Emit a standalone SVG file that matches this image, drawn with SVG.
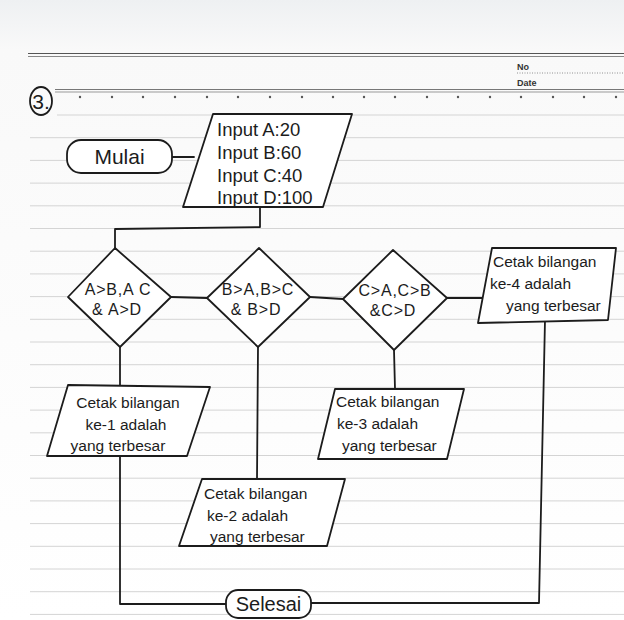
<svg xmlns="http://www.w3.org/2000/svg" width="624" height="620" viewBox="0 0 624 620">
<defs>
<style>
.rule{stroke:#d4d4d4;stroke-width:1}
.ink{fill:none;stroke:#1c1c1c;stroke-width:1.8;stroke-linejoin:round;stroke-linecap:round}
.shape{fill:#ffffff;stroke:#1c1c1c;stroke-width:1.8;stroke-linejoin:round}
.t{font-family:"Liberation Sans","DejaVu Sans",sans-serif;fill:#1c1c1c}
.big{font-size:18.5px}
.mid{font-size:15.5px}
.dec{font-size:16px;letter-spacing:0.8px;text-anchor:middle}
.hdr{font-family:"Liberation Sans",sans-serif;font-size:9px;font-weight:bold;fill:#333}
</style>
<linearGradient id="paper" x1="0" y1="0" x2="0" y2="1">
<stop offset="0" stop-color="#eef0f2"/>
<stop offset="0.08" stop-color="#f9f9f9"/>
<stop offset="1" stop-color="#ffffff"/>
</linearGradient>
</defs>
<rect x="0" y="0" width="624" height="620" fill="url(#paper)"/>
<g id="paper-lines">
<line x1="28" y1="53.5" x2="624" y2="53.5" stroke="#555" stroke-width="1.2"/>
<line x1="28" y1="56.5" x2="624" y2="56.5" stroke="#888" stroke-width="1"/>
<line x1="55" y1="89.5" x2="624" y2="89.5" stroke="#777" stroke-width="1.2"/>
<line x1="55" y1="92" x2="624" y2="92" stroke="#999" stroke-width="1"/>
<line x1="517" y1="73" x2="624" y2="73" stroke="#777" stroke-width="0.8" stroke-dasharray="1,1.5"/>
<text class="hdr" x="517" y="70">No</text>
<text class="hdr" x="517" y="86">Date</text>
<g fill="#555">
<circle cx="80" cy="97" r="1.2"/><circle cx="112" cy="97" r="1.2"/><circle cx="143" cy="97" r="1.2"/><circle cx="175" cy="97" r="1.2"/><circle cx="207" cy="97" r="1.2"/><circle cx="238" cy="97" r="1.2"/><circle cx="270" cy="97" r="1.2"/><circle cx="302" cy="97" r="1.2"/><circle cx="333" cy="97" r="1.2"/><circle cx="364" cy="97" r="1.2"/><circle cx="395" cy="97" r="1.2"/><circle cx="427" cy="97" r="1.2"/><circle cx="458" cy="97" r="1.2"/><circle cx="490" cy="97" r="1.2"/><circle cx="521" cy="97" r="1.2"/><circle cx="553" cy="97" r="1.2"/><circle cx="584" cy="97" r="1.2"/><circle cx="616" cy="97" r="1.2"/>
</g>
<line class="rule" x1="57" y1="115" x2="624" y2="115"/>
<line class="rule" x1="30" y1="137.7" x2="624" y2="137.7"/>
<line class="rule" x1="30" y1="160.4" x2="624" y2="160.4"/>
<line class="rule" x1="30" y1="183.1" x2="624" y2="183.1"/>
<line class="rule" x1="30" y1="205.8" x2="624" y2="205.8"/>
<line class="rule" x1="30" y1="228.5" x2="624" y2="228.5"/>
<line class="rule" x1="30" y1="251.2" x2="624" y2="251.2"/>
<line class="rule" x1="30" y1="273.9" x2="624" y2="273.9"/>
<line class="rule" x1="30" y1="296.6" x2="624" y2="296.6"/>
<line class="rule" x1="30" y1="319.3" x2="624" y2="319.3"/>
<line class="rule" x1="30" y1="342" x2="624" y2="342"/>
<line class="rule" x1="30" y1="364.7" x2="624" y2="364.7"/>
<line class="rule" x1="30" y1="387.4" x2="624" y2="387.4"/>
<line class="rule" x1="30" y1="410.1" x2="624" y2="410.1"/>
<line class="rule" x1="30" y1="432.8" x2="624" y2="432.8"/>
<line class="rule" x1="30" y1="455.5" x2="624" y2="455.5"/>
<line class="rule" x1="30" y1="478.2" x2="624" y2="478.2"/>
<line class="rule" x1="30" y1="500.9" x2="624" y2="500.9"/>
<line class="rule" x1="30" y1="523.6" x2="624" y2="523.6"/>
<line class="rule" x1="30" y1="546.3" x2="624" y2="546.3"/>
<line class="rule" x1="30" y1="569" x2="624" y2="569"/>
<line class="rule" x1="30" y1="591.7" x2="624" y2="591.7"/>
<line class="rule" x1="30" y1="614.4" x2="624" y2="614.4"/>
</g>
<g id="label-3">
<ellipse cx="41" cy="101" rx="11" ry="14" class="ink"/>
<text class="t" x="41" y="109" font-size="21" text-anchor="middle">3.</text>
</g>
<g id="connectors" class="ink">
<line x1="172" y1="157" x2="194" y2="157"/>
<polyline points="260,207 260,227 115,229 115,248"/>
<line x1="171" y1="297" x2="207" y2="298"/>
<line x1="310" y1="297" x2="343" y2="299"/>
<line x1="447" y1="298" x2="484" y2="298"/>
<line x1="120" y1="347" x2="120" y2="385"/>
<line x1="258" y1="347" x2="257" y2="479"/>
<line x1="394" y1="350" x2="395" y2="389"/>
<polyline points="120,456 120,604 226,604"/>
<polyline points="545,320 539,603 311,603"/>
</g>
<g id="mulai">
<rect x="67" y="140" width="105" height="33" rx="14" class="shape"/>
<text class="t" x="119.5" y="164" font-size="21" text-anchor="middle">Mulai</text>
</g>
<g id="input">
<polygon points="213,114 352,114 323,207 183,207" class="shape"/>
<text class="t big" x="217" y="136">Input A:20</text>
<text class="t big" x="217" y="159">Input B:60</text>
<text class="t big" x="217" y="182">Input C:40</text>
<text class="t big" x="217" y="204">Input D:100</text>
</g>
<g id="dec1">
<polygon points="115,248 171,297 120,347 68,297" class="shape"/>
<text class="t dec" x="118" y="295">A&gt;B,A C</text>
<text class="t dec" x="117" y="315">&amp; A&gt;D</text>
</g>
<g id="dec2">
<polygon points="259,248 310,297 258,347 207,298" class="shape"/>
<text class="t dec" x="258" y="295">B&gt;A,B&gt;C</text>
<text class="t dec" x="256" y="315">&amp; B&gt;D</text>
</g>
<g id="dec3">
<polygon points="393,250 447,298 394,350 343,299" class="shape"/>
<text class="t dec" x="395" y="296">C&gt;A,C&gt;B</text>
<text class="t dec" x="393" y="316">&amp;C&gt;D</text>
</g>
<g id="out4">
<polygon points="492,248 616,248 608,320 478,323" class="shape"/>
<text class="t mid" x="493" y="267">Cetak bilangan</text>
<text class="t mid" x="490" y="289">ke-4 adalah</text>
<text class="t mid" x="506" y="311">yang terbesar</text>
</g>
<g id="out1">
<polygon points="68,385 210,387 187,456 47,456" class="shape"/>
<text class="t mid" x="128" y="408" text-anchor="middle">Cetak bilangan</text>
<text class="t mid" x="126" y="430" text-anchor="middle">ke-1 adalah</text>
<text class="t mid" x="118" y="451" text-anchor="middle">yang terbesar</text>
</g>
<g id="out2">
<polygon points="202,479 345,479 327,546 179,546" class="shape"/>
<text class="t mid" x="204" y="499">Cetak bilangan</text>
<text class="t mid" x="207" y="521">ke-2 adalah</text>
<text class="t mid" x="210" y="542">yang terbesar</text>
</g>
<g id="out3">
<polygon points="335,389 464,389 447,459 318,459" class="shape"/>
<text class="t mid" x="336" y="407">Cetak bilangan</text>
<text class="t mid" x="337" y="429">ke-3 adalah</text>
<text class="t mid" x="342" y="451">yang terbesar</text>
</g>
<g id="selesai">
<rect x="226" y="590" width="85" height="28" rx="12" class="shape"/>
<text class="t" x="268.5" y="611" font-size="20" text-anchor="middle">Selesai</text>
</g>
</svg>
